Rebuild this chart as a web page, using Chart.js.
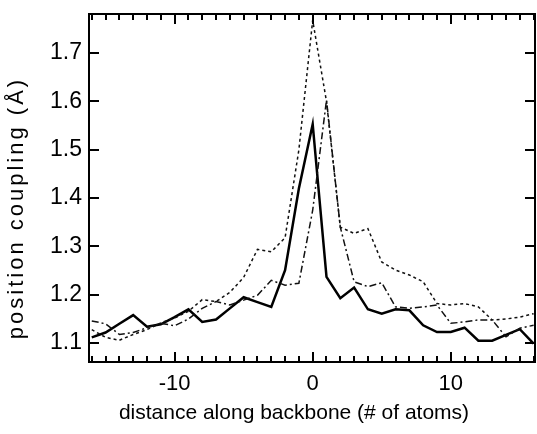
<!DOCTYPE html>
<html>
<head>
<meta charset="utf-8">
<script src="https://cdn.jsdelivr.net/npm/chart.js@4.4.1/dist/chart.umd.min.js"></script>
<style>
  html, body { margin: 0; padding: 0; background: #fff; }
  #wrap { width: 537px; height: 434px; }
</style>
</head>
<body>
<div id="wrap"><canvas id="chart"></canvas></div>
<script>
// distance along backbone (# of atoms)
const offsets = [-16, -15, -14, -13, -12, -11, -10, -9, -8, -7, -6, -5, -4, -3, -2, -1,
                 0, 1, 2, 3, 4, 5, 6, 7, 8, 9, 10, 11, 12, 13, 14, 15, 16];

// position coupling (Å)
const solidLine = [1.112, 1.122, 1.140, 1.158, 1.134, 1.139, 1.154, 1.170, 1.144, 1.149, 1.172,
                   1.195, 1.185, 1.175, 1.251, 1.420, 1.553, 1.237, 1.193, 1.215, 1.170, 1.161,
                   1.170, 1.168, 1.137, 1.123, 1.123, 1.132, 1.105, 1.105, 1.117, 1.129, 1.099];
const dottedLine = [1.128, 1.112, 1.106, 1.118, 1.128, 1.142, 1.152, 1.166, 1.190, 1.186, 1.205,
                    1.236, 1.294, 1.289, 1.318, 1.500, 1.768, 1.600, 1.340, 1.327, 1.337, 1.268,
                    1.251, 1.241, 1.227, 1.182, 1.179, 1.182, 1.175, 1.148, 1.150, 1.154, 1.161];
const dashDotLine = [1.146, 1.140, 1.118, 1.122, 1.132, 1.141, 1.136, 1.150, 1.172, 1.186, 1.179,
                     1.189, 1.199, 1.230, 1.220, 1.224, 1.375, 1.603, 1.340, 1.227, 1.217, 1.225,
                     1.175, 1.172, 1.175, 1.179, 1.141, 1.144, 1.148, 1.148, 1.113, 1.131, 1.137];

const yTicks = [1.1, 1.2, 1.3, 1.4, 1.5, 1.6, 1.7];
const xTickLabels = [-10, 0, 10];

const FONT = "'Liberation Sans', Arial, Helvetica, sans-serif";

const toPoints = (ys) => offsets.map((x, i) => ({ x, y: ys[i] }));

// box around the plot with inward tick marks (minor every atom, major every 10)
const frame = {
    id: 'frame',
    afterDraw(chart) {
        const c = chart.ctx;
        const a = chart.chartArea;
        const sx = chart.scales.x;
        const sy = chart.scales.y;
        c.save();
        c.setLineDash([]);
        c.lineWidth = 2;
        c.strokeStyle = '#000';
        for (const v of offsets) {
            const px = Math.round(sx.getPixelForValue(v));
            const len = v % 10 === 0 ? 10 : 6;
            c.beginPath();
            c.moveTo(px, a.bottom);
            c.lineTo(px, a.bottom - len);
            c.moveTo(px, a.top);
            c.lineTo(px, a.top + len);
            c.stroke();
        }
        for (const v of yTicks) {
            const py = Math.round(sy.getPixelForValue(v));
            c.beginPath();
            c.moveTo(a.left, py);
            c.lineTo(a.left + 10, py);
            c.moveTo(a.right, py);
            c.lineTo(a.right - 10, py);
            c.stroke();
        }
        c.strokeRect(a.left, a.top, a.right - a.left, a.bottom - a.top);
        c.restore();
    }
};

// nudge axis titles and widen the letter spacing of the y title
const titleTweak = {
    id: 'titleTweak',
    afterLayout(chart) {
        const tweak = { x: { dx: -18, dy: 0, ls: '0px' }, y: { dx: 0, dy: 20, ls: '3px' } };
        Object.keys(tweak).forEach((id) => {
            const s = chart.scales[id];
            if (!s || s._tweaked) return;
            const orig = s.drawTitle.bind(s);
            const t = tweak[id];
            s.drawTitle = function () {
                const c = this.ctx;
                c.save();
                c.translate(t.dx, t.dy);
                c.letterSpacing = t.ls;
                orig();
                c.restore();
            };
            s._tweaked = true;
        });
    }
};

const canvasCtx = document.getElementById('chart').getContext('2d');

new Chart(canvasCtx, {
    type: 'line',
    data: {
        datasets: [
            {
                data: toPoints(dottedLine),
                borderColor: '#111',
                borderWidth: 1.5,
                borderDash: [3, 3],
            },
            {
                data: toPoints(dashDotLine),
                borderColor: '#111',
                borderWidth: 1.5,
                borderDash: [7, 3, 2, 3],
            },
            {
                data: toPoints(solidLine),
                borderColor: '#000',
                borderWidth: 2.5,
            },
        ],
    },
    options: {
        responsive: true,
        maintainAspectRatio: false,
        animation: false,
        elements: {
            point: { radius: 0 },
            line: { tension: 0, borderJoinStyle: 'miter' },
        },
        layout: {
            padding: { top: 14, right: 2, left: 0, bottom: 0 },
        },
        plugins: {
            legend: { display: false },
            tooltip: { enabled: false },
        },
        scales: {
            x: {
                type: 'linear',
                min: -16.2,
                max: 16.1,
                afterFit: (scale) => {
                    scale.height = 72;
                    scale.paddingLeft = 0;
                    scale.paddingRight = 0;
                },
                grid: { display: false, drawTicks: false },
                border: { display: false },
                ticks: {
                    stepSize: 10,
                    includeBounds: false,
                    autoSkip: false,
                    maxRotation: 0,
                    padding: 9,
                    color: '#000',
                    font: { family: FONT, size: 22 },
                    callback: (v) => (xTickLabels.includes(v) ? String(v) : ''),
                },
                title: {
                    display: true,
                    text: 'distance along backbone (# of atoms)',
                    color: '#000',
                    font: { family: FONT, size: 21 },
                    padding: { top: 0, bottom: 8 },
                },
            },
            y: {
                min: 1.061,
                max: 1.781,
                afterFit: (scale) => {
                    scale.width = 89;
                    scale.paddingTop = 0;
                    scale.paddingBottom = 0;
                },
                grid: { display: false, drawTicks: false },
                border: { display: false },
                ticks: {
                    stepSize: 0.1,
                    includeBounds: false,
                    padding: 7,
                    color: '#000',
                    font: { family: FONT, size: 23 },
                    callback: (v) => v.toFixed(1),
                },
                title: {
                    display: true,
                    text: 'position coupling (Å)',
                    color: '#000',
                    font: { family: FONT, size: 22 },
                    padding: { top: 4, bottom: 0 },
                },
            },
        },
    },
    plugins: [frame, titleTweak],
});
</script>
</body>
</html>
